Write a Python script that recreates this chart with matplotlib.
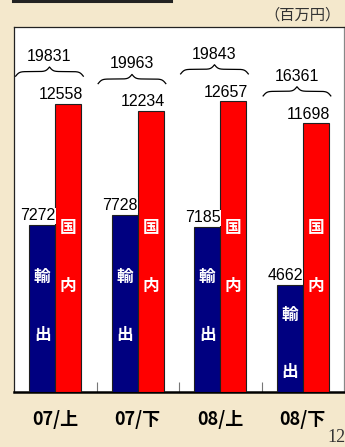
import numpy as np
import matplotlib
matplotlib.use("Agg")
import matplotlib.pyplot as plt
from matplotlib.lines import Line2D

# data (百万円)
periods = ["07/上", "07/下", "08/上", "08/下"]
export_vals = [7272, 7728, 7185, 4662]
domestic_vals = [12558, 12234, 12657, 11698]
totals = [19831, 19963, 19843, 16361]

cjk = ["Noto Sans CJK JP", "DejaVu Sans"]
num_font = "Liberation Sans"

fig = plt.figure(figsize=(3.45, 4.47), dpi=100)
fig.patch.set_facecolor("#f4e8cc")

ax = fig.add_axes([14 / 345, 55 / 447, 330 / 345, 365 / 447])
ax.set_facecolor("white")

x = np.arange(len(periods))
w = 0.315

ax.bar(x - w, export_vals, width=w, align="edge", color="#000080",
       edgecolor="#202020", linewidth=0.8, zorder=3)
ax.bar(x, domestic_vals, width=w, align="edge", color="#ff0000",
       edgecolor="#202020", linewidth=0.8, zorder=3)

ax.set_xlim(-0.5, 3.5)
ax.set_ylim(0, 15900)

# value labels
for i in range(len(periods)):
    ax.text(x[i], export_vals[i] + 80, str(export_vals[i]), ha="right", va="bottom",
            fontsize=11.5, family=num_font, color="black", zorder=4,
            bbox=dict(facecolor="white", edgecolor="none", pad=0.5))
    ax.text(x[i] + w + 0.02, domestic_vals[i] + 80, str(domestic_vals[i]), ha="right",
            va="bottom", fontsize=11.5, family=num_font, color="black", zorder=4)


# curly brace + total above each group
def draw_brace(ax, xc, y, half_w, h, beta=45):
    xh = np.linspace(0, half_w, 200)
    yh = 1 / (1 + np.exp(-beta * (xh - xh[0]))) + 1 / (1 + np.exp(-beta * (xh - xh[-1])))
    xs = np.concatenate([xh, xh[1:] + half_w]) + xc - half_w
    ys = np.concatenate([yh, yh[::-1][1:]])
    ys = y + (ys - 1) * h
    ax.plot(xs, ys, color="black", linewidth=0.9, zorder=4, clip_on=False)


for i in range(len(periods)):
    yb = domestic_vals[i] + 1400
    xc = x[i] - 0.07
    draw_brace(ax, xc, yb, 0.41, 400)
    ax.text(xc, yb + 330, str(totals[i]), ha="center", va="bottom",
            fontsize=11.5, family=num_font, color="black", zorder=4)

# vertical labels inside bars
for i in range(len(periods)):
    top = min(5000, export_vals[i] * 0.72)
    ax.text(x[i] - w / 2, top, "輸", ha="center", va="center", color="white",
            fontsize=12, fontweight="bold", family=cjk, zorder=5)
    ax.text(x[i] - w / 2, top - 2500, "出", ha="center", va="center", color="white",
            fontsize=12, fontweight="bold", family=cjk, zorder=5)
    ax.text(x[i] + w / 2, 7150, "国", ha="center", va="center", color="white",
            fontsize=12, fontweight="bold", family=cjk, zorder=5)
    ax.text(x[i] + w / 2, 4600, "内", ha="center", va="center", color="white",
            fontsize=12, fontweight="bold", family=cjk, zorder=5)

ax.set_yticks([])
ax.set_xticks(x)
ax.set_xticklabels(periods, fontsize=13, fontweight="bold", family=cjk)
ax.tick_params(axis="x", which="major", length=0, pad=13)
ax.set_xticks([0.5, 1.5, 2.5], minor=True)
ax.tick_params(axis="x", which="minor", direction="in", length=7, color="#777777", width=0.8)

for s in ["left", "top", "right"]:
    ax.spines[s].set_linewidth(0.9)
    ax.spines[s].set_color("#222222")
ax.spines["right"].set_color("#888888")
ax.spines["bottom"].set_linewidth(1.8)

fig.text(341 / 345, 1 - 15 / 447, "（百万円）", ha="right", va="center",
         fontsize=11, family=cjk, color="#333333")
fig.text(336 / 345, 1 - 437 / 447, "12", ha="center", va="center",
         fontsize=13, family="Liberation Serif", color="#333333")
fig.add_artist(Line2D([13 / 345, 171 / 345], [1 - 1 / 447, 1 - 1 / 447],
                      color="#222222", linewidth=2.2, transform=fig.transFigure))

fig.savefig("out.png", dpi=100, facecolor=fig.get_facecolor())
